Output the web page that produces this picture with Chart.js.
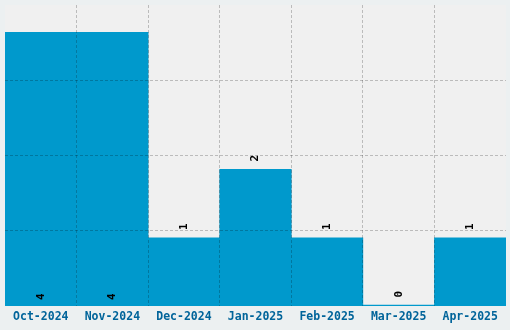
<!DOCTYPE html>
<html><head><meta charset="utf-8">
<script src="https://cdn.jsdelivr.net/npm/chart.js@4/dist/chart.umd.min.js"></script>
<style>html,body{margin:0;padding:0;background:#ecf0f1;}#wrap{width:510px;height:330px;}</style>
</head><body><div id="wrap"><canvas id="c" width="510" height="330"></canvas></div>
<script>
const categories = ["Oct-2024","Nov-2024","Dec-2024","Jan-2025","Feb-2025","Mar-2025","Apr-2025"];
const counts = [4,4,1,2,1,0,1];
const yTicks = [0,1.1,2.2,3.3,4.4];

const bgPlugin = {
  id:'bg',
  beforeDraw(chart){
    const {ctx, chartArea:a} = chart;
    ctx.save();
    ctx.fillStyle='#ecf0f1'; ctx.fillRect(0,0,chart.width,chart.height);
    ctx.fillStyle='#f0f0f0'; ctx.fillRect(a.left,a.top,a.right-a.left,a.bottom-a.top);
    ctx.restore();
  }
};
const labelPlugin = {
  id:'vlabels',
  afterDraw(chart){
    const {ctx} = chart;
    const meta = chart.getDatasetMeta(0);
    const data = chart.data.datasets[0].data;
    const max = Math.max(...data);
    ctx.save();
    ctx.font = 'bold 11px "DejaVu Sans Mono"';
    ctx.fillStyle = '#000';
    ctx.textAlign='center'; ctx.textBaseline='middle';
    meta.data.forEach((bar,i)=>{
      const v = data[i];
      const y = (v===max) ? bar.base - 9 : Math.min(bar.y, bar.base) - 11;
      ctx.save();
      ctx.translate(bar.x, y);
      ctx.rotate(-Math.PI/2);
      ctx.fillText(String(v),0,0);
      ctx.restore();
    });
    ctx.restore();
  }
};
const gridCol = 'rgba(0,0,0,0.22)';
const hide = 'rgba(0,0,0,0)';
new Chart(document.getElementById('c'),{
  type:'bar',
  data:{labels:categories,datasets:[{data:counts,backgroundColor:'#0099cc',borderWidth:0,categoryPercentage:1,barPercentage:1,minBarLength:1}]},
  options:{
    responsive:false,animation:false,
    layout:{padding:{left:5,right:4,top:5,bottom:2}},
    plugins:{legend:{display:false},tooltip:{enabled:false}},
    scales:{
      x:{
        offset:true,
        grid:{z:1,offset:true,drawTicks:false,lineWidth:1,
          color:(c)=> (c.index===undefined||c.index===0||c.index>=categories.length)?hide:gridCol},
        border:{display:false,dash:[3,2]},
        ticks:{padding:4,color:'#00649a',font:{family:'"DejaVu Sans Mono"',size:11.5,weight:'bold'},maxRotation:0,autoSkip:false}
      },
      y:{
        min:0,max:4.4,
        afterBuildTicks:(s)=>{s.ticks = yTicks.map(v=>({value:v}));},
        grid:{z:1,drawTicks:false,color:(c)=>(c.index===undefined||c.index===0||c.index===yTicks.length-1)?hide:gridCol},
        border:{display:false,dash:[3,2]},
        ticks:{display:false}
      }
    }
  },
  plugins:[bgPlugin,labelPlugin]
});
</script></body></html>
